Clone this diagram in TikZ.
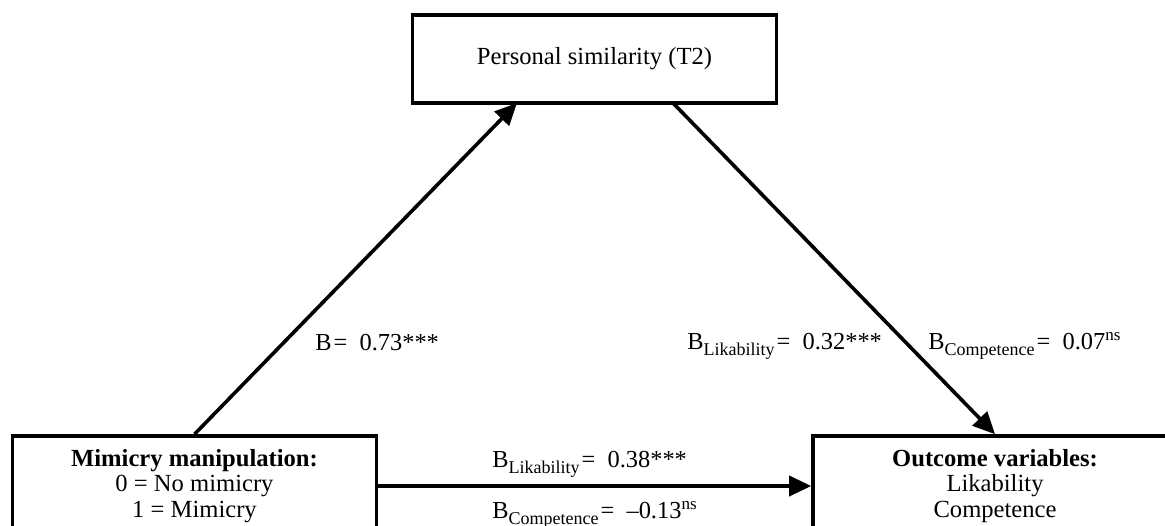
\documentclass[tikz,border=0pt]{standalone}
\usepackage{fontspec}
\setmainfont{Liberation Serif}
\usetikzlibrary{arrows.meta}
\newcommand\mysub[1]{\raisebox{-3pt}{\fontsize{9}{9}\selectfont #1}}
\begin{document}
\begin{tikzpicture}[x=0.5pt,y=-0.5pt,
  box/.style={draw,line width=1.8pt,minimum width=182pt,align=center,inner sep=0pt,font=\fontsize{12.3}{12.8}\selectfont},
  arr/.style={line width=1.8pt,-{Triangle[length=11pt,width=10pt]}},
  lbl/.style={anchor=base west,inner sep=0pt,font=\fontsize{12.2}{14}\selectfont}]
\useasboundingbox (0,0) rectangle (1165,525);
\clip (0,0) rectangle (1165,525);
\node[box,minimum height=44pt] (top) at (594.5,59) {Personal similarity (T2)};
\node[box,minimum height=50pt] (left) at (194.5,486) {\textbf{Mimicry manipulation:}\\0 = No mimicry\\1 = Mimicry};
\node[box,minimum height=50pt] (right) at (995,486) {\textbf{Outcome variables:}\\Likability\\Competence};
\coordinate (ta) at (517,103);
\coordinate (tb) at (673,103);
\draw[arr] (left.north) -- (ta);
\draw[arr] (tb) -- (right.north);
\draw[arr] (left.east) -- (right.west);
\node[lbl] (l1) at (315,350) {B\kern1pt=\ \ 0.73***};
\node[lbl] (l2) at (687,349) {B\mysub{Likability}\kern1pt=\ \ 0.32***};
\node[lbl] (l3) at (928,349) {B\mysub{Competence}\kern1pt=\ \ 0.07\textsuperscript{ns}};
\node[lbl] (l4) at (492,467) {B\mysub{Likability}\kern1pt=\ \ 0.38***};
\node[lbl] (l5) at (492,518) {B\mysub{Competence}\kern1pt=\ \ –0.13\textsuperscript{ns}};
\end{tikzpicture}
\end{document}
